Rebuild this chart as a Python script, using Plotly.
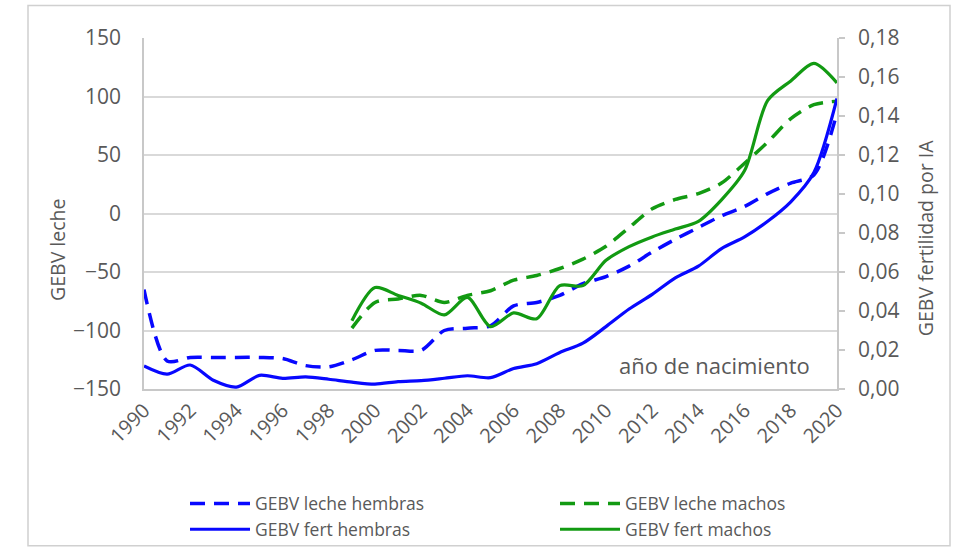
import plotly.graph_objects as go

years = list(range(1990, 2021))
years_m = list(range(1999, 2021))

leche_hembras = [-65, -126, -123, -123, -123, -123, -124, -130, -131, -125,
                 -117, -117, -117, -100, -98, -96, -79, -76, -70, -60,
                 -54, -45, -33, -22, -12, -2, 6, 17, 26, 33, 86]
fert_hembras = [0.0118, 0.0076, 0.0123, 0.0045, 0.0010, 0.0070, 0.0055, 0.0062, 0.0050, 0.0035,
                0.0025, 0.0038, 0.0043, 0.0055, 0.0068, 0.0058, 0.0105, 0.0130, 0.0187, 0.0235,
                0.0320, 0.0410, 0.0485, 0.0570, 0.0630, 0.0720, 0.0780, 0.0860, 0.0960, 0.1110, 0.1490]
leche_machos = [-98, -76, -73, -70, -76, -70, -66, -57, -53, -47,
                -39, -28, -12, 4, 12, 17, 26, 43, 61, 81, 93, 96]
fert_machos = [0.035, 0.052, 0.048, 0.044, 0.038, 0.047, 0.032, 0.039, 0.036, 0.053,
               0.053, 0.066, 0.073, 0.078, 0.082, 0.086, 0.097, 0.112, 0.148, 0.158, 0.167, 0.157]

left_ticks = [-150, -100, -50, 0, 50, 100, 150]
right_ticks = [0.00, 0.02, 0.04, 0.06, 0.08, 0.10, 0.12, 0.14, 0.16, 0.18]
x_ticks = list(range(1990, 2021, 2))

BLUE = "#0808ff"
GREEN = "#129a12"
GRAY = "#595959"
FONT = "Open Sans"

# plot area in pixels: x 144..837, y 38..394
PL, PR, PT, PB = 144, 837, 38, 394
def px(x):
    return (x - PL) / (PR - PL)
def py(y):
    return (PB - y) / (PB - PT)

fig = go.Figure()
fig.add_trace(go.Scatter(x=years, y=leche_hembras, name="GEBV leche hembras", mode="lines",
                         line=dict(color=BLUE, width=3.5, dash="15px,9px", shape="spline", smoothing=0.8),
                         yaxis="y", legend="legend"))
fig.add_trace(go.Scatter(x=years, y=fert_hembras, name="GEBV fert hembras", mode="lines",
                         line=dict(color=BLUE, width=3.2, shape="spline", smoothing=0.8),
                         yaxis="y2", legend="legend"))
fig.add_trace(go.Scatter(x=years_m, y=leche_machos, name="GEBV leche machos", mode="lines",
                         line=dict(color=GREEN, width=3.5, dash="15px,9px", shape="spline", smoothing=0.8),
                         yaxis="y", legend="legend2"))
fig.add_trace(go.Scatter(x=years_m, y=fert_machos, name="GEBV fert machos", mode="lines",
                         line=dict(color=GREEN, width=3.2, shape="spline", smoothing=0.8),
                         yaxis="y2", legend="legend2"))

fig.update_layout(
    width=980, height=560,
    margin=dict(l=PL, r=980 - PR, t=PT, b=560 - PB),
    paper_bgcolor="white", plot_bgcolor="white",
    font=dict(family=FONT, color=GRAY, size=18),
    xaxis=dict(range=[1990, 2020], tickvals=x_ticks, ticktext=[str(v) for v in x_ticks],
               tickangle=-45, showgrid=False, zeroline=False, showline=True,
               linecolor="#c8c8c8", linewidth=1.5, ticks="", tickfont=dict(size=20, color=GRAY)),
    yaxis=dict(range=[-150, 150], tickvals=left_ticks, showgrid=True, gridcolor="#d9d9d9",
               gridwidth=1.5, zeroline=False, showline=True, linecolor="#c8c8c8", linewidth=1.5,
               ticks="", ticklen=0, ticklabelstandoff=17, tickfont=dict(size=21, color=GRAY)),
    yaxis2=dict(range=[0, 0.18], tickvals=right_ticks,
                ticktext=[f"{v:.2f}".replace(".", ",") for v in right_ticks],
                overlaying="y", side="right", showgrid=False, zeroline=False, showline=True,
                linecolor="#c8c8c8", linewidth=1.5, ticks="outside", ticklen=6,
                tickcolor="#c8c8c8", tickwidth=1.5, ticklabelstandoff=9,
                tickfont=dict(size=21, color=GRAY)),
    legend=dict(x=px(185), y=py(492), xanchor="left", yanchor="top",
                orientation="v", font=dict(size=17.5, color=GRAY), bgcolor="rgba(0,0,0,0)",
                tracegroupgap=0, itemwidth=60),
    legend2=dict(x=px(555), y=py(492), xanchor="left", yanchor="top",
                 orientation="v", font=dict(size=17.5, color=GRAY), bgcolor="rgba(0,0,0,0)",
                 tracegroupgap=0, itemwidth=60),
    showlegend=True,
    annotations=[
        dict(text="año de nacimiento", x=px(812), y=py(370), xref="paper", yref="paper",
             xanchor="right", yanchor="middle", showarrow=False, font=dict(size=22, color=GRAY)),
        dict(text="GEBV leche", x=px(58), y=py(253), xref="paper", yref="paper",
             xanchor="center", yanchor="middle", textangle=-90, showarrow=False,
             font=dict(size=19.5, color=GRAY)),
        dict(text="GEBV fertilidad por IA", x=px(925), y=py(241), xref="paper", yref="paper",
             xanchor="center", yanchor="middle", textangle=-90, showarrow=False,
             font=dict(size=19.5, color=GRAY)),
    ],
    shapes=[dict(type="rect", xref="paper", yref="paper",
                 x0=px(28), x1=px(950), y0=py(553), y1=py(5),
                 line=dict(color="#d0d0d0", width=1.5), fillcolor="rgba(0,0,0,0)", layer="below")],
)

fig.write_html("out.html")
